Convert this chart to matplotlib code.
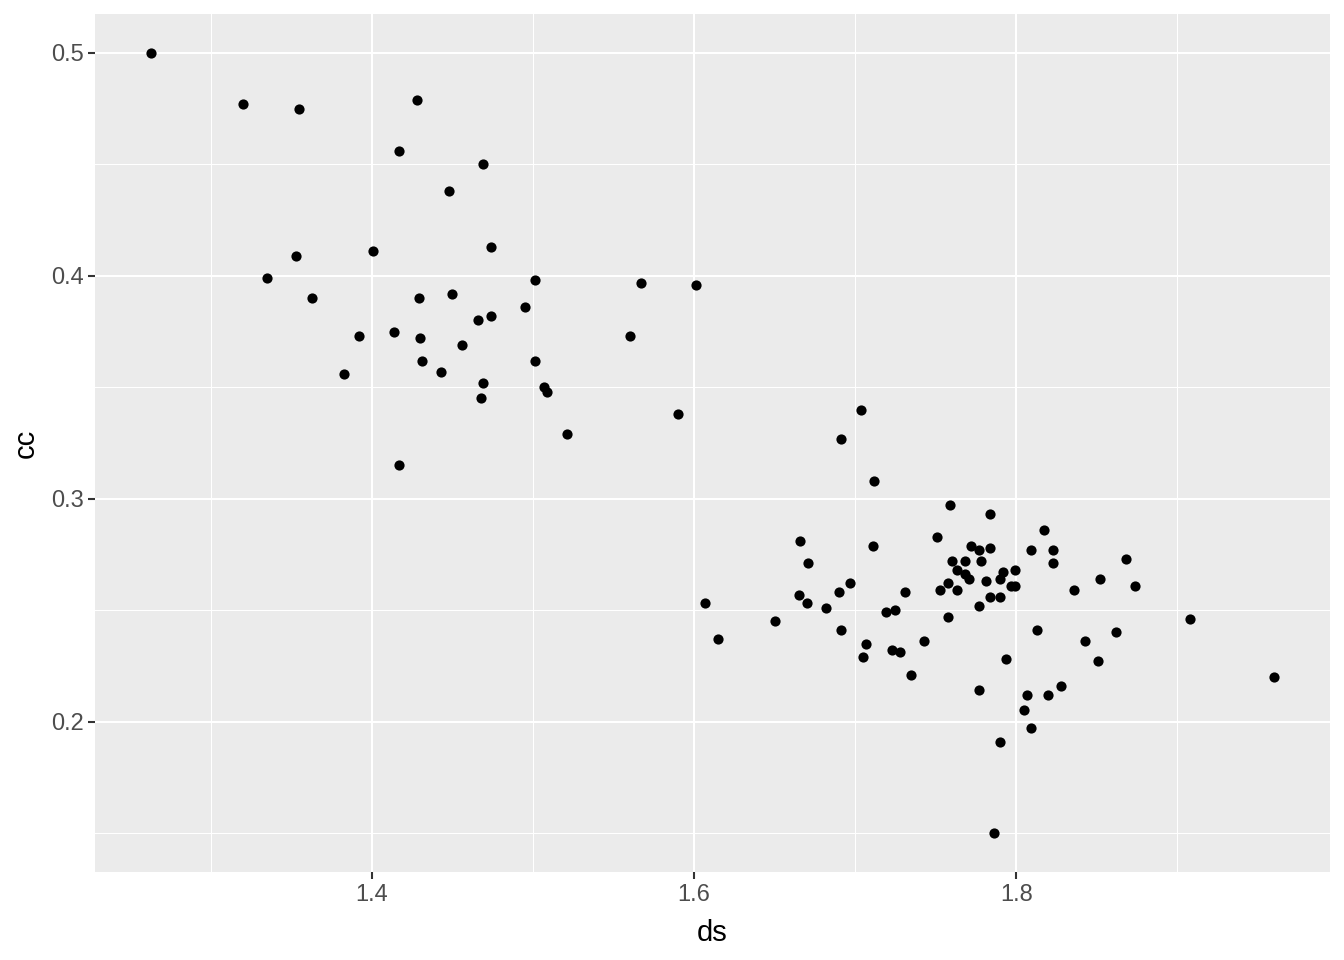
import numpy as np
import matplotlib
matplotlib.use("Agg")
import matplotlib.pyplot as plt
from matplotlib.ticker import MultipleLocator

plt.rcParams["font.family"] = ["Liberation Sans", "DejaVu Sans"]

# values
ds = [
    1.263, 1.320, 1.355, 1.428, 1.417, 1.469, 1.448, 1.335, 1.353, 1.401,
    1.474, 1.501, 1.567, 1.363, 1.429, 1.450, 1.495, 1.474, 1.466, 1.392,
    1.414, 1.430, 1.456, 1.560, 1.383, 1.431, 1.443, 1.501, 1.469, 1.468,
    1.507, 1.509, 1.521, 1.417, 1.601, 1.590,
    1.704, 1.691, 1.712, 1.759, 1.784, 1.751, 1.666, 1.711, 1.772, 1.777,
    1.784, 1.671, 1.760, 1.768, 1.778, 1.763, 1.768, 1.771, 1.781, 1.697,
    1.690, 1.665, 1.731, 1.753, 1.763, 1.758, 1.784, 1.607, 1.670, 1.682,
    1.719, 1.725, 1.777, 1.650, 1.758, 1.615, 1.691, 1.707, 1.705, 1.723,
    1.728, 1.743, 1.735, 1.777, 1.817, 1.809, 1.823, 1.823, 1.868, 1.799,
    1.792, 1.790, 1.797, 1.799, 1.852, 1.874, 1.836, 1.790, 1.908, 1.813,
    1.862, 1.843, 1.851, 1.794, 1.828, 1.807, 1.820, 1.805, 1.809, 1.790,
    1.786, 1.960,
]
cc = [
    0.500, 0.477, 0.475, 0.479, 0.456, 0.450, 0.438, 0.399, 0.409, 0.411,
    0.413, 0.398, 0.397, 0.390, 0.390, 0.392, 0.386, 0.382, 0.380, 0.373,
    0.375, 0.372, 0.369, 0.373, 0.356, 0.362, 0.357, 0.362, 0.352, 0.345,
    0.350, 0.348, 0.329, 0.315, 0.396, 0.338,
    0.340, 0.327, 0.308, 0.297, 0.293, 0.283, 0.281, 0.279, 0.279, 0.277,
    0.278, 0.271, 0.272, 0.272, 0.272, 0.268, 0.266, 0.264, 0.263, 0.262,
    0.258, 0.257, 0.258, 0.259, 0.259, 0.262, 0.256, 0.253, 0.253, 0.251,
    0.249, 0.250, 0.252, 0.245, 0.247, 0.237, 0.241, 0.235, 0.229, 0.232,
    0.231, 0.236, 0.221, 0.214, 0.286, 0.277, 0.277, 0.271, 0.273, 0.268,
    0.267, 0.264, 0.261, 0.261, 0.264, 0.261, 0.259, 0.256, 0.246, 0.241,
    0.240, 0.236, 0.227, 0.228, 0.216, 0.212, 0.212, 0.205, 0.197, 0.191,
    0.150, 0.220,
]

fig = plt.figure(figsize=(13.44, 9.6), dpi=100)
ax = fig.add_axes([95 / 1344, 1 - 872 / 960, 1235 / 1344, 858 / 960])

ax.set_facecolor("#EBEBEB")
for s in ax.spines.values():
    s.set_visible(False)

ax.scatter(ds, cc, s=54, color="black", linewidths=0, zorder=3)

# ggplot-style 5% expansion
xr = max(ds) - min(ds)
yr = max(cc) - min(cc)
ax.set_xlim(min(ds) - 0.05 * xr, max(ds) + 0.05 * xr)
ax.set_ylim(min(cc) - 0.05 * yr, max(cc) + 0.05 * yr)

ax.xaxis.set_major_locator(MultipleLocator(0.2))
ax.xaxis.set_minor_locator(MultipleLocator(0.1))
ax.yaxis.set_major_locator(MultipleLocator(0.1))
ax.yaxis.set_minor_locator(MultipleLocator(0.05))
ax.xaxis.set_major_formatter(plt.FuncFormatter(lambda v, p: f"{v:.1f}"))
ax.yaxis.set_major_formatter(plt.FuncFormatter(lambda v, p: f"{v:.1f}"))

ax.grid(which="major", color="white", linewidth=1.5)
ax.grid(which="minor", color="white", linewidth=0.75)
ax.set_axisbelow(True)

ax.tick_params(which="major", length=5.3, width=1.5, color="#333333",
               labelsize=17, labelcolor="#4D4D4D", pad=3)
ax.tick_params(which="minor", length=0)

ax.set_xlabel("ds", fontsize=21, color="black", labelpad=10)
ax.set_ylabel("cc", fontsize=21, color="black", labelpad=8)

fig.savefig("out.png", dpi=100, facecolor="white")
